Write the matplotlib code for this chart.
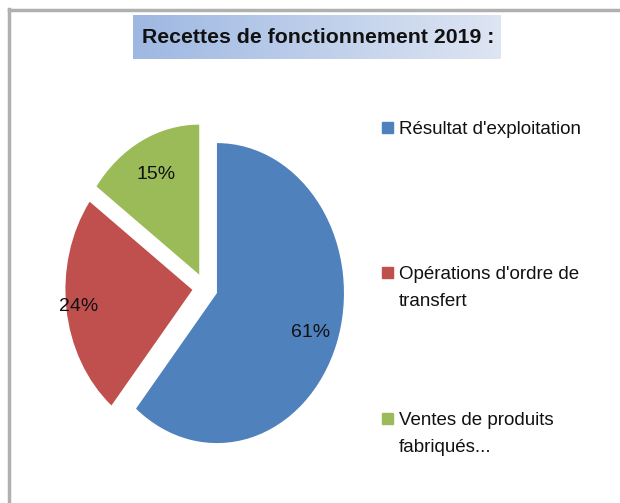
import numpy as np
import matplotlib.pyplot as plt
from matplotlib.patches import Rectangle
from matplotlib.lines import Line2D

# data
categories = ["Résultat d'exploitation", "Opérations d'ordre de\ntransfert", "Ventes de produits\nfabriqués..."]
shares = [61, 24, 15]
colors = ["#4F81BD", "#C0504D", "#9BBB59"]
title = "Recettes de fonctionnement 2019 :"

W, H = 620, 503
fig = plt.figure(figsize=(W / 100, H / 100), dpi=100)
font = ["Liberation Sans", "DejaVu Sans"]

# grey chart border (top and left visible)
fig.add_artist(Line2D([9 / W, 9 / W], [0, 1 - 9 / H], color="#b0b0b0", lw=2.5))
fig.add_artist(Line2D([9 / W, 1], [1 - 10 / H, 1 - 10 / H], color="#b0b0b0", lw=2.5))

# title box with a light blue gradient
tax = fig.add_axes([133 / W, 1 - 59 / H, 368 / W, 44 / H])
grad = np.linspace(0, 1, 256).reshape(1, -1)
left_c = np.array([158, 184, 226]) / 255
right_c = np.array([222, 229, 243]) / 255
img = left_c[None, None, :] * (1 - grad[..., None]) + right_c[None, None, :] * grad[..., None]
tax.imshow(img, aspect="auto", extent=[0, 1, 0, 1])
tax.set_axis_off()
tax.text(0.502, 0.48, title, ha="center", va="center", fontsize=15.3,
         fontweight="bold", family=font, color="#111111")

# pie: the source image is stretched vertically, so keep the aspect free
cx, cy, rx, ry = 205, 288, 127, 150
ax = fig.add_axes([(cx - 150) / W, (H - cy - 170) / H, 300 / W, 340 / H])
wedges, _ = ax.pie(shares, colors=colors, startangle=90, counterclock=False,
                   explode=[0.1, 0.1, 0.1], wedgeprops=dict(linewidth=0))
ax.set_aspect("auto")
ax.set_xlim(-150 / rx, 150 / rx)
ax.set_ylim(-170 / ry, 170 / ry)

label_dist = [0.78, 0.9, 0.75]
for w, s, d in zip(wedges, shares, label_dist):
    ang = np.deg2rad((w.theta1 + w.theta2) / 2)
    x0, y0 = w.center
    ax.text(x0 + d * np.cos(ang), y0 + d * np.sin(ang), f"{s}%",
            ha="center", va="center", fontsize=14, family=font, color="#111111")

# legend drawn by hand to mimic the spread-out Excel layout
leg_y = [127, 272, 418]
for lab, c, y in zip(categories, colors, leg_y):
    fig.add_artist(Rectangle((382 / W, 1 - (y + 5.5) / H), 11 / W, 11 / H,
                             color=c, transform=fig.transFigure))
    fig.text(399 / W, 1 - (y - 6) / H, lab, ha="left", va="top",
             fontsize=13.5, family=font, color="#111111", linespacing=1.75)

fig.savefig("out.png", dpi=100)
